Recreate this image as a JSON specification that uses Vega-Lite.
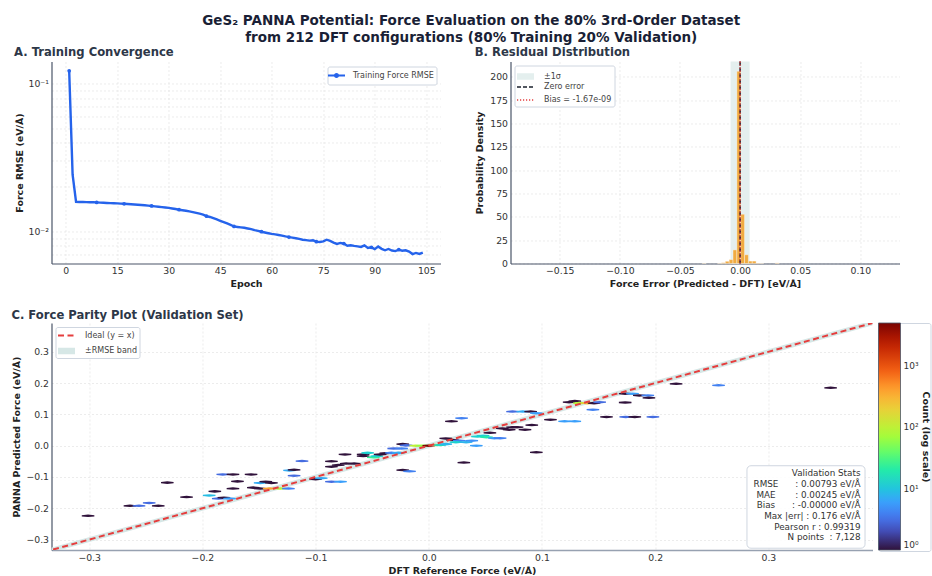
{
  "$schema": "https://vega.github.io/schema/vega-lite/v6.json",
  "background": "white",
  "padding": {"left": 10.5, "top": 13.5, "right": 0, "bottom": 0},
  "spacing": 20.5,
  "resolve": {
    "scale": {"x": "independent", "y": "independent", "color": "independent", "fill": "independent", "stroke": "independent", "strokeDash": "independent", "strokeWidth": "independent"},
    "legend": {"color": "independent", "fill": "independent", "stroke": "independent", "strokeDash": "independent", "strokeWidth": "independent"}
  },
  "title": {
    "text": ["GeS₂ PANNA Potential: Force Evaluation on the 80% 3rd-Order Dataset", "from 212 DFT configurations (80% Training 20% Validation)"],
    "anchor": "middle",
    "font": "DejaVu Sans",
    "fontSize": 13.5,
    "fontWeight": "bold",
    "color": "#1a1f36",
    "lineHeight": 16.7,
    "offset": 2.3
  },
  "datasets": {
    "training": [
      {"epoch": 1, "rmse": 0.1225}, {"epoch": 2, "rmse": 0.0242}, {"epoch": 3, "rmse": 0.01585}, {"epoch": 4, "rmse": 0.01582},
      {"epoch": 5, "rmse": 0.0158}, {"epoch": 6, "rmse": 0.01578}, {"epoch": 7, "rmse": 0.01576}, {"epoch": 8, "rmse": 0.01574},
      {"epoch": 9, "rmse": 0.01572}, {"epoch": 10, "rmse": 0.01566}, {"epoch": 11, "rmse": 0.01562}, {"epoch": 12, "rmse": 0.01558},
      {"epoch": 13, "rmse": 0.01555}, {"epoch": 14, "rmse": 0.01552}, {"epoch": 15, "rmse": 0.01548}, {"epoch": 16, "rmse": 0.01543},
      {"epoch": 17, "rmse": 0.01538}, {"epoch": 18, "rmse": 0.01532}, {"epoch": 19, "rmse": 0.01527}, {"epoch": 20, "rmse": 0.01521},
      {"epoch": 21, "rmse": 0.01515}, {"epoch": 22, "rmse": 0.01509}, {"epoch": 23, "rmse": 0.01502}, {"epoch": 24, "rmse": 0.01495},
      {"epoch": 25, "rmse": 0.01487}, {"epoch": 26, "rmse": 0.01478}, {"epoch": 27, "rmse": 0.01469}, {"epoch": 28, "rmse": 0.0146},
      {"epoch": 29, "rmse": 0.01451}, {"epoch": 30, "rmse": 0.01442}, {"epoch": 31, "rmse": 0.0143}, {"epoch": 32, "rmse": 0.01417},
      {"epoch": 33, "rmse": 0.01402}, {"epoch": 34, "rmse": 0.01392}, {"epoch": 35, "rmse": 0.0138}, {"epoch": 36, "rmse": 0.01366},
      {"epoch": 37, "rmse": 0.01351}, {"epoch": 38, "rmse": 0.01335}, {"epoch": 39, "rmse": 0.01318}, {"epoch": 40, "rmse": 0.013},
      {"epoch": 41, "rmse": 0.01268}, {"epoch": 42, "rmse": 0.01252}, {"epoch": 43, "rmse": 0.01228}, {"epoch": 44, "rmse": 0.01205},
      {"epoch": 45, "rmse": 0.0118}, {"epoch": 46, "rmse": 0.01157}, {"epoch": 47, "rmse": 0.01132}, {"epoch": 48, "rmse": 0.01108},
      {"epoch": 49, "rmse": 0.0108}, {"epoch": 50, "rmse": 0.01072}, {"epoch": 51, "rmse": 0.01065}, {"epoch": 52, "rmse": 0.01058},
      {"epoch": 53, "rmse": 0.01047}, {"epoch": 54, "rmse": 0.01035}, {"epoch": 55, "rmse": 0.0102}, {"epoch": 56, "rmse": 0.01008},
      {"epoch": 57, "rmse": 0.00995}, {"epoch": 58, "rmse": 0.00983}, {"epoch": 59, "rmse": 0.00972}, {"epoch": 60, "rmse": 0.00962},
      {"epoch": 61, "rmse": 0.00955}, {"epoch": 62, "rmse": 0.00946}, {"epoch": 63, "rmse": 0.00937}, {"epoch": 64, "rmse": 0.00925},
      {"epoch": 65, "rmse": 0.00915}, {"epoch": 66, "rmse": 0.00908}, {"epoch": 67, "rmse": 0.00899}, {"epoch": 68, "rmse": 0.00889},
      {"epoch": 69, "rmse": 0.00878}, {"epoch": 70, "rmse": 0.00872}, {"epoch": 71, "rmse": 0.00866}, {"epoch": 72, "rmse": 0.0087},
      {"epoch": 73, "rmse": 0.00852}, {"epoch": 74, "rmse": 0.00848}, {"epoch": 75, "rmse": 0.00856}, {"epoch": 76, "rmse": 0.00878},
      {"epoch": 77, "rmse": 0.00862}, {"epoch": 78, "rmse": 0.0084}, {"epoch": 79, "rmse": 0.00822}, {"epoch": 80, "rmse": 0.00835},
      {"epoch": 81, "rmse": 0.00827}, {"epoch": 82, "rmse": 0.008}, {"epoch": 83, "rmse": 0.00806}, {"epoch": 84, "rmse": 0.00797},
      {"epoch": 85, "rmse": 0.00792}, {"epoch": 86, "rmse": 0.00785}, {"epoch": 87, "rmse": 0.00805}, {"epoch": 88, "rmse": 0.00772},
      {"epoch": 89, "rmse": 0.0078}, {"epoch": 90, "rmse": 0.00758}, {"epoch": 91, "rmse": 0.0079}, {"epoch": 92, "rmse": 0.00762},
      {"epoch": 93, "rmse": 0.00745}, {"epoch": 94, "rmse": 0.0076}, {"epoch": 95, "rmse": 0.00742}, {"epoch": 96, "rmse": 0.00735},
      {"epoch": 97, "rmse": 0.00752}, {"epoch": 98, "rmse": 0.0074}, {"epoch": 99, "rmse": 0.00745}, {"epoch": 100, "rmse": 0.0073},
      {"epoch": 101, "rmse": 0.00702}, {"epoch": 102, "rmse": 0.00715}, {"epoch": 103, "rmse": 0.00703}, {"epoch": 104, "rmse": 0.00718}
    ],
    "residual_hist": [
      {"lo": -0.0315, "hi": -0.0283, "density": 0.35},
      {"lo": -0.0187, "hi": -0.0155, "density": 0.3},
      {"lo": -0.0155, "hi": -0.0123, "density": 0.8},
      {"lo": -0.0123, "hi": -0.0091, "density": 2.4},
      {"lo": -0.0091, "hi": -0.0059, "density": 4.2},
      {"lo": -0.0059, "hi": -0.0027, "density": 14.6},
      {"lo": -0.0027, "hi": 0.0005, "density": 206},
      {"lo": 0.0005, "hi": 0.0037, "density": 52.8},
      {"lo": 0.0037, "hi": 0.0069, "density": 9.4},
      {"lo": 0.0069, "hi": 0.0101, "density": 2.6},
      {"lo": 0.0101, "hi": 0.0133, "density": 2.6},
      {"lo": 0.0133, "hi": 0.0165, "density": 0.5},
      {"lo": 0.0165, "hi": 0.0197, "density": 0.3},
      {"lo": 0.0293, "hi": 0.0325, "density": 0.6}
    ],
    "residual_lines": [
      {"value": 0, "label": "Zero error"},
      {"value": -1.67e-9, "label": "Bias = -1.67e-09"}
    ],
    "hexbin": [
      {"x": -0.301, "y": -0.224, "count": 1}, {"x": -0.264, "y": -0.192, "count": 1}, {"x": -0.256, "y": -0.192, "count": 3},
      {"x": -0.247, "y": -0.183, "count": 3}, {"x": -0.239, "y": -0.192, "count": 1}, {"x": -0.231, "y": -0.118, "count": 1},
      {"x": -0.214, "y": -0.164, "count": 1}, {"x": -0.194, "y": -0.159, "count": 9}, {"x": -0.189, "y": -0.146, "count": 1},
      {"x": -0.186, "y": -0.169, "count": 3}, {"x": -0.181, "y": -0.166, "count": 1}, {"x": -0.176, "y": -0.169, "count": 6},
      {"x": -0.182, "y": -0.092, "count": 3}, {"x": -0.173, "y": -0.092, "count": 1}, {"x": -0.173, "y": -0.137, "count": 1},
      {"x": -0.169, "y": -0.114, "count": 1}, {"x": -0.157, "y": -0.092, "count": 1}, {"x": -0.155, "y": -0.134, "count": 1},
      {"x": -0.149, "y": -0.137, "count": 1}, {"x": -0.149, "y": -0.119, "count": 7}, {"x": -0.144, "y": -0.115, "count": 1},
      {"x": -0.139, "y": -0.119, "count": 1}, {"x": -0.141, "y": -0.137, "count": 400}, {"x": -0.131, "y": -0.137, "count": 90},
      {"x": -0.124, "y": -0.137, "count": 4}, {"x": -0.123, "y": -0.079, "count": 7}, {"x": -0.119, "y": -0.077, "count": 1},
      {"x": -0.119, "y": -0.096, "count": 3}, {"x": -0.112, "y": -0.049, "count": 3}, {"x": -0.1, "y": -0.107, "count": 1},
      {"x": -0.095, "y": -0.104, "count": 7}, {"x": -0.086, "y": -0.115, "count": 3}, {"x": -0.078, "y": -0.115, "count": 6},
      {"x": -0.086, "y": -0.05, "count": 1}, {"x": -0.086, "y": -0.067, "count": 1}, {"x": -0.08, "y": -0.062, "count": 1},
      {"x": -0.073, "y": -0.057, "count": 1}, {"x": -0.066, "y": -0.057, "count": 1}, {"x": -0.074, "y": -0.028, "count": 1},
      {"x": -0.058, "y": -0.028, "count": 1}, {"x": -0.058, "y": -0.033, "count": 1}, {"x": -0.054, "y": -0.023, "count": 12},
      {"x": -0.049, "y": -0.037, "count": 25}, {"x": -0.046, "y": -0.033, "count": 12}, {"x": -0.043, "y": -0.028, "count": 1},
      {"x": -0.038, "y": -0.024, "count": 1}, {"x": -0.033, "y": -0.023, "count": 4}, {"x": -0.027, "y": -0.023, "count": 7},
      {"x": -0.031, "y": -0.009, "count": 3}, {"x": -0.024, "y": -0.009, "count": 4}, {"x": -0.023, "y": 0.005, "count": 1},
      {"x": -0.02, "y": 0.001, "count": 3}, {"x": -0.023, "y": -0.078, "count": 1}, {"x": -0.017, "y": -0.082, "count": 4},
      {"x": -0.0115, "y": 0.0, "count": 100}, {"x": -0.0055, "y": 0.0, "count": 60}, {"x": 0.0, "y": 0.0, "count": 5080},
      {"x": 0.0055, "y": 0.002, "count": 150}, {"x": 0.0095, "y": 0.002, "count": 15}, {"x": 0.015, "y": 0.005, "count": 8},
      {"x": 0.015, "y": 0.023, "count": 1}, {"x": 0.021, "y": 0.018, "count": 1}, {"x": 0.027, "y": 0.016, "count": 4},
      {"x": 0.024, "y": 0.011, "count": 12}, {"x": 0.033, "y": 0.011, "count": 8}, {"x": 0.038, "y": 0.016, "count": 5},
      {"x": 0.042, "y": 0.0, "count": 6}, {"x": 0.02, "y": 0.078, "count": 1}, {"x": 0.029, "y": 0.088, "count": 4},
      {"x": 0.031, "y": -0.054, "count": 1}, {"x": 0.043, "y": 0.029, "count": 12}, {"x": 0.048, "y": 0.032, "count": 12},
      {"x": 0.051, "y": 0.027, "count": 20}, {"x": 0.054, "y": 0.041, "count": 1}, {"x": 0.058, "y": 0.024, "count": 6},
      {"x": 0.063, "y": 0.024, "count": 4}, {"x": 0.065, "y": 0.055, "count": 1}, {"x": 0.071, "y": 0.051, "count": 1},
      {"x": 0.074, "y": 0.059, "count": 1}, {"x": 0.078, "y": 0.059, "count": 1}, {"x": 0.085, "y": 0.051, "count": 1},
      {"x": 0.091, "y": 0.066, "count": 1}, {"x": 0.074, "y": 0.109, "count": 3}, {"x": 0.083, "y": 0.109, "count": 7},
      {"x": 0.09, "y": 0.109, "count": 1}, {"x": 0.095, "y": 0.104, "count": 6}, {"x": 0.095, "y": -0.021, "count": 1},
      {"x": 0.1075, "y": 0.083, "count": 1}, {"x": 0.12, "y": 0.078, "count": 6}, {"x": 0.129, "y": 0.078, "count": 6},
      {"x": 0.124, "y": 0.139, "count": 1}, {"x": 0.129, "y": 0.1425, "count": 1}, {"x": 0.133, "y": 0.136, "count": 90},
      {"x": 0.1405, "y": 0.136, "count": 250}, {"x": 0.146, "y": 0.136, "count": 1}, {"x": 0.151, "y": 0.139, "count": 3},
      {"x": 0.145, "y": 0.115, "count": 4}, {"x": 0.157, "y": 0.092, "count": 1}, {"x": 0.1735, "y": 0.166, "count": 1},
      {"x": 0.18, "y": 0.166, "count": 6}, {"x": 0.186, "y": 0.1605, "count": 1}, {"x": 0.1935, "y": 0.1605, "count": 4},
      {"x": 0.1945, "y": 0.153, "count": 1}, {"x": 0.1735, "y": 0.138, "count": 1}, {"x": 0.174, "y": 0.092, "count": 3},
      {"x": 0.182, "y": 0.092, "count": 1}, {"x": 0.198, "y": 0.092, "count": 3}, {"x": 0.2185, "y": 0.1976, "count": 1},
      {"x": 0.256, "y": 0.193, "count": 4}, {"x": 0.355, "y": 0.185, "count": 1}
    ],
    "parity_band": [
      {"f": -0.34, "lo": -0.34793, "hi": -0.33207},
      {"f": 0.4, "lo": 0.39207, "hi": 0.40793}
    ]
  },
  "config": {
    "font": "DejaVu Sans",
    "view": {"stroke": null},
    "axis": {
      "labelFont": "DejaVu Sans",
      "labelFontSize": 9.3,
      "labelColor": "#333333",
      "labelOverlap": false,
      "titleFont": "DejaVu Sans",
      "titleFontSize": 9.5,
      "titleFontWeight": "bold",
      "titleColor": "#222222",
      "grid": true,
      "gridColor": "#e4e4e4",
      "gridDash": [2, 2],
      "gridWidth": 0.7,
      "ticks": false,
      "tickCount": 30,
      "labelPadding": 3,
      "domainColor": "#4a5568",
      "domainWidth": 1.2
    },
    "title": {
      "font": "DejaVu Sans",
      "fontSize": 11.6,
      "fontWeight": "bold",
      "color": "#2d3748",
      "anchor": "start",
      "offset": 2.5
    },
    "legend": {
      "labelFont": "DejaVu Sans",
      "labelFontSize": 8,
      "labelColor": "#444444",
      "strokeColor": "#cfd6e0",
      "fillColor": "#ffffff",
      "cornerRadius": 2,
      "padding": 2.5
    }
  },
  "vconcat": [
    {
      "hconcat": [
        {
          "width": 389,
          "height": 202,
          "title": "A. Training Convergence",
          "data": {"name": "training"},
          "layer": [
            {
              "mark": {"type": "line", "strokeWidth": 2.4},
              "encoding": {
                "x": {"field": "epoch", "type": "quantitative", "scale": {"domain": [-4.15, 109.15], "nice": false, "zero": false},
                      "axis": {"values": [0, 15, 30, 45, 60, 75, 90, 105], "title": "Epoch", "titlePadding": 3}},
                "y": {"field": "rmse", "type": "quantitative", "scale": {"type": "log", "domain": [0.00606, 0.1416], "nice": false},
                      "axis": {"values": [0.007, 0.008, 0.009, 0.01, 0.02, 0.03, 0.04, 0.05, 0.06, 0.07, 0.08, 0.09, 0.1],
                               "labelExpr": "datum.value == 0.1 ? '10⁻¹' : datum.value == 0.01 ? '10⁻²' : ''",
                               "title": "Force RMSE (eV/Å)", "titlePadding": 4}},
                "color": {"datum": "Training Force RMSE", "type": "nominal", "scale": {"range": ["#2563eb"]},
                          "legend": {"title": null, "orient": "top-right", "offset": 4.5, "symbolSize": 100, "labelOffset": 10, "rowPadding": 0,
                                     "encode": {"symbols": {"update": {
                                       "shape": {"value": "M-1.7,0L1.7,0M-0.3,0A0.3,0.3 0 1,0 0.3,0A0.3,0.3 0 1,0 -0.3,0Z"},
                                       "fill": {"value": "#2563eb"}, "stroke": {"value": "#2563eb"}, "strokeWidth": {"value": 2.2}, "opacity": {"value": 1}}}}}}
              }
            },
            {
              "transform": [{"filter": "(datum.epoch - 1) % 8 === 0"}],
              "mark": {"type": "point", "filled": true, "size": 14, "opacity": 1},
              "encoding": {
                "x": {"field": "epoch", "type": "quantitative"},
                "y": {"field": "rmse", "type": "quantitative"},
                "color": {"datum": "Training Force RMSE", "type": "nominal"}
              }
            }
          ]
        },
        {
          "width": 389,
          "height": 202,
          "title": "B. Residual Distribution",
          "layer": [
            {
              "data": {"values": [{"lo": -0.00793, "hi": 0.00793}]},
              "mark": {"type": "rect", "color": "#e4efee", "opacity": 1},
              "encoding": {
                "x": {"field": "lo", "type": "quantitative", "scale": {"domain": [-0.191, 0.1326], "nice": false, "zero": false},
                      "axis": {"values": [-0.15, -0.1, -0.05, 0, 0.05, 0.1], "format": ".2f", "title": "Force Error (Predicted - DFT) [eV/Å]", "titlePadding": 3}},
                "x2": {"field": "hi"}
              }
            },
            {
              "data": {"name": "residual_hist"},
              "mark": {"type": "rect", "color": "#f2a633", "opacity": 0.92, "stroke": "white", "strokeWidth": 0.4},
              "encoding": {
                "x": {"field": "lo", "type": "quantitative"},
                "x2": {"field": "hi"},
                "y": {"field": "density", "type": "quantitative", "scale": {"domain": [0, 216.4], "nice": false},
                      "axis": {"values": [0, 25, 50, 75, 100, 125, 150, 175, 200], "title": "Probability Density", "titlePadding": 5}},
                "y2": {"datum": 0}
              }
            },
            {
              "data": {"name": "residual_lines"},
              "mark": {"type": "rule"},
              "encoding": {
                "x": {"field": "value", "type": "quantitative"},
                "stroke": {"field": "label", "type": "nominal",
                           "scale": {"domain": ["±1σ", "Zero error", "Bias = -1.67e-09"], "range": ["#e4efee", "#1a202c", "#e53e3e"]},
                           "legend": {"title": null, "orient": "top-left", "offset": 4, "symbolType": "M-1.7,0L1.7,0", "symbolSize": 100, "labelOffset": 10,
                                      "gridAlign": "all", "rowPadding": -0.5,
                                      "encode": {"symbols": {"update": {"strokeJoin": {"value": "bevel"}}}}}},
                "strokeDash": {"field": "label", "type": "nominal",
                               "scale": {"domain": ["±1σ", "Zero error", "Bias = -1.67e-09"], "range": [[1, 0], [4, 2], [1.2, 1.8]]},
                               "legend": {"title": null, "orient": "top-left", "offset": 4, "symbolType": "M-1.7,0L1.7,0", "symbolSize": 100, "labelOffset": 10,
                                          "gridAlign": "all", "rowPadding": -0.5,
                                          "encode": {"symbols": {"update": {"strokeJoin": {"value": "bevel"}}}}}},
                "strokeWidth": {"field": "label", "type": "ordinal",
                                "scale": {"type": "ordinal", "domain": ["±1σ", "Zero error", "Bias = -1.67e-09"], "range": [6.5, 1.5, 1.5]},
                                "legend": {"title": null, "orient": "top-left", "offset": 4, "symbolType": "M-1.7,0L1.7,0", "symbolSize": 100, "labelOffset": 10,
                                           "gridAlign": "all", "rowPadding": -0.5,
                                           "encode": {"symbols": {"update": {"strokeJoin": {"value": "bevel"}}}}}}
              }
            }
          ]
        }
      ],
      "spacing": 70,
      "bounds": "flush",
      "resolve": {
        "scale": {"x": "independent", "y": "independent", "color": "independent", "stroke": "independent", "strokeDash": "independent", "strokeWidth": "independent"},
        "legend": {"color": "independent", "stroke": "independent", "strokeDash": "independent", "strokeWidth": "independent"}
      }
    },
    {
      "width": 821,
      "height": 227,
      "title": {"text": "C. Force Parity Plot (Validation Set)", "offset": 1},
      "layer": [
        {
          "data": {"name": "parity_band"},
          "mark": {"type": "area", "fill": "#d6e7e6", "strokeWidth": 0, "clip": true},
          "encoding": {
            "x": {"field": "f", "type": "quantitative", "scale": {"domain": [-0.3333, 0.392], "nice": false, "zero": false},
                  "axis": {"values": [-0.3, -0.2, -0.1, 0, 0.1, 0.2, 0.3], "format": ".1f", "title": "DFT Reference Force (eV/Å)", "titlePadding": 3,
                           "tickCount": 30, "domainColor": "#97a1b1", "domainWidth": 1.6}},
            "y": {"field": "lo", "type": "quantitative", "scale": {"domain": [-0.3333, 0.392], "nice": false, "zero": false},
                  "axis": {"values": [-0.3, -0.2, -0.1, 0, 0.1, 0.2, 0.3], "format": ".1f", "title": "PANNA Predicted Force (eV/Å)", "titlePadding": 4.5,
                           "tickCount": 30}},
            "y2": {"field": "hi"}
          }
        },
        {
          "data": {"name": "hexbin"},
          "mark": {"type": "point", "filled": true, "shape": "M-1,-0.1L0,-0.2L1,-0.1L1,0.1L0,0.2L-1,0.1Z", "size": 159, "strokeWidth": 0, "opacity": 1},
          "encoding": {
            "x": {"field": "x", "type": "quantitative"},
            "y": {"field": "y", "type": "quantitative"},
            "fill": {"field": "count", "type": "quantitative",
                     "scale": {"type": "log",
                               "domain": [1, 1.84, 3.384, 6.225, 11.45, 21.06, 38.74, 71.28, 131.1, 241.2, 443.7, 816.2, 1501.6, 2762, 5080],
                               "range": ["#30123b", "#4145ab", "#4675ed", "#39a2fc", "#1bcfd4", "#24eca6", "#61fc6c", "#a4fc3b", "#d1e834", "#f3c63a", "#fe9b2d", "#f36315", "#d93806", "#b11901", "#7a0402"],
                               "interpolate": "rgb", "nice": false},
                     "legend": {"orient": "right", "offset": 6, "direction": "vertical", "gradientLength": 227, "gradientThickness": 22,
                                "values": [1, 10, 100, 1000],
                                "labelExpr": "datum.value === 1 ? '10⁰' : datum.value === 10 ? '10¹' : datum.value === 100 ? '10²' : '10³'",
                                "labelFontSize": 9, "labelColor": "#333333", "labelOffset": 3,
                                "gradientStrokeColor": "#4a5568", "gradientStrokeWidth": 0.8,
                                "title": "Count (log scale)", "titleOrient": "right", "titleFontSize": 9.5, "titleFontWeight": "bold",
                                "titleColor": "#222222", "titlePadding": 2, "padding": 0, "strokeColor": null, "fillColor": null,
                                "encode": {"title": {"update": {"angle": {"value": -90}}}}}}
          }
        },
        {
          "data": {"name": "parity_band"},
          "mark": {"type": "line", "clip": true},
          "encoding": {
            "x": {"field": "f", "type": "quantitative"},
            "y": {"field": "f", "type": "quantitative"},
            "stroke": {"datum": "Ideal (y = x)", "type": "nominal",
                       "scale": {"domain": ["Ideal (y = x)", "±RMSE band"], "range": ["#e53e3e", "#d6e7e6"]},
                       "legend": {"title": null, "orient": "top-left", "offset": 4, "symbolType": "M-1.7,0L1.7,0", "symbolSize": 100, "labelOffset": 10,
                                  "gridAlign": "all", "rowPadding": -4.4,
                                  "encode": {"symbols": {"update": {"strokeJoin": {"value": "bevel"}}}}}},
            "strokeDash": {"datum": "Ideal (y = x)", "type": "nominal",
                           "scale": {"domain": ["Ideal (y = x)", "±RMSE band"], "range": [[6, 3.5], [1, 0]]},
                           "legend": {"title": null, "orient": "top-left", "offset": 4, "symbolType": "M-1.7,0L1.7,0", "symbolSize": 100, "labelOffset": 10,
                                      "gridAlign": "all", "rowPadding": -4.4,
                                      "encode": {"symbols": {"update": {"strokeJoin": {"value": "bevel"}}}}}},
            "strokeWidth": {"datum": "Ideal (y = x)", "type": "ordinal",
                            "scale": {"type": "ordinal", "domain": ["Ideal (y = x)", "±RMSE band"], "range": [2, 6.5]},
                            "legend": {"title": null, "orient": "top-left", "offset": 4, "symbolType": "M-1.7,0L1.7,0", "symbolSize": 100, "labelOffset": 10,
                                       "gridAlign": "all", "rowPadding": -4.4,
                                       "encode": {"symbols": {"update": {"strokeJoin": {"value": "bevel"}}}}}}
          }
        },
        {
          "data": {"values": [{}]},
          "mark": {"type": "rect", "fill": "white", "fillOpacity": 0.9, "stroke": "#cfd6e0", "strokeWidth": 1, "cornerRadius": 4},
          "encoding": {
            "x": {"datum": 0.2811}, "x2": {"datum": 0.3854},
            "y": {"datum": -0.0641}, "y2": {"datum": -0.3276}
          }
        },
        {
          "data": {"values": [{}]},
          "mark": {"type": "text", "align": "right", "baseline": "top", "fontSize": 8.8, "lineHeight": 10.7, "color": "#333333",
                   "text": ["Validation Stats",
                            "RMSE\u00a0\u00a0\u00a0\u00a0\u00a0\u00a0:\u00a00.00793\u00a0eV/Å",
                            "MAE\u00a0\u00a0\u00a0\u00a0\u00a0\u00a0\u00a0:\u00a00.00245\u00a0eV/Å",
                            "Bias\u00a0\u00a0\u00a0\u00a0\u00a0\u00a0:\u00a0-0.00000\u00a0eV/Å",
                            "Max\u00a0|err|\u00a0:\u00a00.176\u00a0eV/Å",
                            "Pearson\u00a0r\u00a0:\u00a00.99319",
                            "N\u00a0points\u00a0\u00a0:\u00a07,128"]},
          "encoding": {
            "x": {"datum": 0.3814},
            "y": {"datum": -0.0753}
          }
        }
      ]
    }
  ]
}
